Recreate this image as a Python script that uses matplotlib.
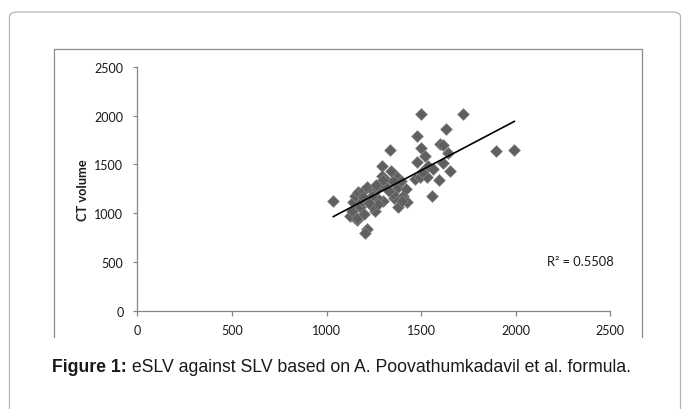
import numpy as np
import matplotlib
matplotlib.use('Agg')
import matplotlib.pyplot as plt
from matplotlib.patches import FancyBboxPatch
from matplotlib.lines import Line2D

# SLV (x) against CT volume (y)
slv = [1036, 1124, 1160, 1142, 1150, 1168, 1195, 1215, 1247, 1177,
       1186, 1133, 1160, 1200, 1256, 1238, 1296, 1265, 1212, 1203,
       1265, 1292, 1293, 1318, 1340, 1335, 1370, 1370, 1358, 1380,
       1406, 1424, 1418, 1353, 1238, 1195, 1309, 1274, 1392, 1397,
       1468, 1330, 1350, 1300, 1260, 1225,
       1498, 1723, 1894, 1993, 1632, 1480, 1498, 1600, 1617, 1644,
       1521, 1477, 1534, 1617, 1653, 1565, 1494, 1530, 1593, 1556,
       1503]
ct = [1123, 976, 935, 1112, 1181, 1216, 1232, 1270, 1232, 1061,
      1129, 1027, 955, 990, 1018, 1078, 1129, 1155, 839, 795,
      1249, 1488, 1386, 1335, 1430, 1653, 1369, 1258, 1155, 1061,
      1181, 1112, 1252, 1198, 1181, 1164, 1284, 1095, 1330, 1129,
      1352, 1230, 1330, 1340, 1290, 1100,
      2019, 2019, 1642, 1649, 1865, 1789, 1666, 1711, 1704, 1615,
      1591, 1523, 1488, 1516, 1437, 1454, 1369, 1369, 1345, 1181,
      1420]
r2_label = 'R² = 0.5508'
xticks = [0, 500, 1000, 1500, 2000, 2500]
yticks = [0, 500, 1000, 1500, 2000, 2500]

W, H = 683, 410
fig = plt.figure(figsize=(W / 100, H / 100), dpi=100)
fig.patch.set_facecolor('white')


def fx(px):
    return px / W


def fy(py):
    return 1 - py / H


# outer rounded frame (runs off the right/bottom of the picture)
frame = FancyBboxPatch((fx(9.5), fy(440)), fx(671), (440 - 13) / H,
                       boxstyle='round,pad=0,rounding_size=0.012',
                       transform=fig.transFigure, fill=False,
                       edgecolor='#b4b4b4', linewidth=0.9)
fig.add_artist(frame)

# chart area border, open at the bottom
fig.add_artist(Line2D([fx(53.5), fx(53.5), fx(641.5), fx(641.5)],
                      [fy(338), fy(50), fy(50), fy(338)],
                      transform=fig.transFigure, color='#8c8c8c',
                      linewidth=0.9))

ax = fig.add_axes([fx(137.3), fy(311.7), fx(610.3) - fx(137.3),
                   fy(68) - fy(311.7)])
ax.set_xlim(0, 2500)
ax.set_ylim(0, 2500)
ax.set_xticks(xticks)
ax.set_yticks(yticks)

ax.scatter(slv, ct, marker='D', s=36, facecolor='#5f5f5f',
           edgecolor='#858585', linewidths=0.5, zorder=3)

# linear trend line
k, b = np.polyfit(slv, ct, 1)
xs = np.array([min(slv), max(slv)])
ax.plot(xs, k * xs + b, color='black', linewidth=1.2, zorder=4)

ax.text(0.866, 0.204, r2_label, transform=ax.transAxes, fontsize=9.3,
        family='Lato', va='center', ha='left', color='#1a1a1a')

for side in ['top', 'right']:
    ax.spines[side].set_visible(False)
for side in ['left', 'bottom']:
    ax.spines[side].set_color('#868686')
    ax.spines[side].set_linewidth(0.9)
ax.tick_params(axis='x', direction='out', length=3.6, width=0.9,
               color='#868686', pad=6, labelsize=9, labelcolor='#1a1a1a')
ax.tick_params(axis='y', direction='out', length=3, width=0.9,
               color='#868686', pad=7, labelsize=9, labelcolor='#1a1a1a')
for lab in ax.get_xticklabels() + ax.get_yticklabels():
    lab.set_family('Lato')

ax.set_ylabel('CT volume', fontsize=9.3, fontweight='bold', family='Lato',
              color='#1a1a1a')
ax.yaxis.set_label_coords(-0.102, 0.5)

# caption
t = fig.text(fx(52), fy(368), 'Figure 1:', fontsize=12.7, fontweight='bold',
             family='Liberation Sans', va='center', ha='left',
             color='#1a1a1a')
ax.annotate(' eSLV against SLV based on A. Poovathumkadavil et al. formula.',
            xy=(1, 0.5), xycoords=t, va='center', ha='left', fontsize=12.7,
            family='Liberation Sans', color='#1a1a1a',
            annotation_clip=False)

fig.savefig('out.png', dpi=100)
